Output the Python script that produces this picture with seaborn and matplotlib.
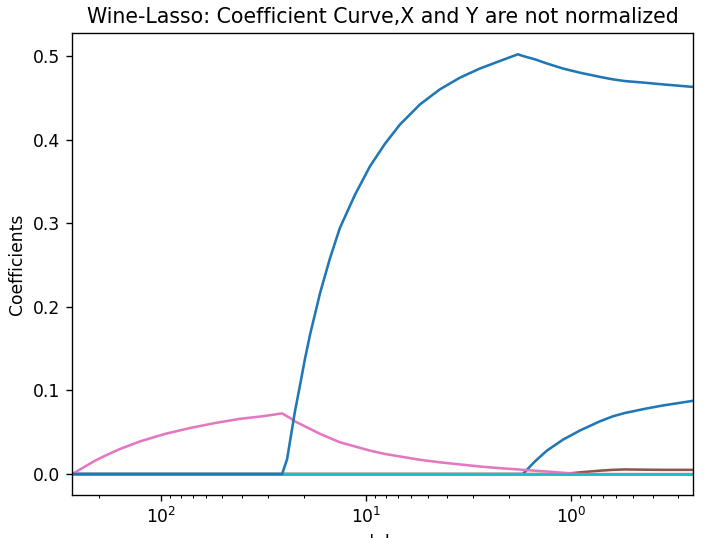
import numpy as np
import pandas as pd
import seaborn as sns
import matplotlib
matplotlib.use("Agg")
import matplotlib.pyplot as plt

# alpha grid (large -> small)
alphas = [270, 233.8, 209.0, 182.7, 157.9, 126.2, 95.3, 72.0, 54.4, 41.1, 32.1, 25.6,
          24.2, 23.4, 22.2, 20.95, 19.8, 18.7, 16.7, 14.96, 13.4, 11.3, 9.55, 8.07,
          6.82, 5.45, 4.36, 3.48, 2.78, 2.22, 1.815,
          1.716, 1.50, 1.31, 1.095, 0.905, 0.723, 0.625, 0.546, 0.436, 0.356, 0.255]

features = ["fixed acidity", "volatile acidity", "citric acid", "residual sugar",
            "chlorides", "free sulfur dioxide", "total sulfur dioxide", "density",
            "pH", "sulphates", "alcohol"]

zeros = [0.0] * len(alphas)

fixed_acidity = [0] * 31 + [0, 0.015, 0.028, 0.041, 0.052, 0.063, 0.069, 0.073,
                            0.078, 0.082, 0.0875]
free_sulfur = [0] * 31 + [0, 0, 0, 0, 0.002, 0.004, 0.005, 0.0055, 0.0052, 0.005, 0.005]
total_sulfur = [0, 0.009, 0.016, 0.023, 0.030, 0.039, 0.048, 0.055, 0.061, 0.066, 0.069, 0.0725,
                0.069, 0.067, 0.063, 0.060, 0.057, 0.054, 0.048, 0.043, 0.038, 0.033,
                0.028, 0.024, 0.021, 0.017, 0.014, 0.0115, 0.009, 0.007, 0.0055,
                0.005, 0.004, 0.003, 0.0015, 0, 0, 0, 0, 0, 0, 0]
alcohol = [0] * 12 + [0.018, 0.040, 0.074, 0.106, 0.138, 0.167, 0.217, 0.258, 0.294, 0.334,
                      0.368, 0.395, 0.418, 0.442, 0.460, 0.474, 0.485, 0.494, 0.502,
                      0.500, 0.496, 0.491, 0.485, 0.480, 0.475, 0.472, 0.470, 0.468,
                      0.466, 0.463]

coefs = {
    "fixed acidity": fixed_acidity,
    "volatile acidity": zeros,
    "citric acid": zeros,
    "residual sugar": zeros,
    "chlorides": zeros,
    "free sulfur dioxide": free_sulfur,
    "total sulfur dioxide": total_sulfur,
    "density": zeros,
    "pH": zeros,
    "sulphates": zeros,
    "alcohol": alcohol,
}

df = pd.DataFrame([
    {"alpha": a, "feature": f, "coef": c}
    for f in features
    for a, c in zip(alphas, coefs[f])
])

tab = sns.color_palette("tab10")
palette = [tab[i % 10] for i in range(len(features))]

dpi = 123
fig = plt.figure(figsize=(710 / dpi, 538 / dpi), dpi=dpi)
ax = fig.add_axes([0.1018, 0.0799, 0.8738, 0.8582])
sns.lineplot(data=df, x="alpha", y="coef", hue="feature", hue_order=features,
             palette=palette, legend=False, sort=True, linewidth=1.5, ax=ax)
ax.set_xscale("log")
ax.set_xlim(max(alphas), min(alphas))
ax.set_xlabel("alpha")
ax.set_ylabel("Coefficients")
ax.set_title("Wine-Lasso: Coefficient Curve,X and Y are not normalized")

fig.savefig("out.png", dpi=dpi)
